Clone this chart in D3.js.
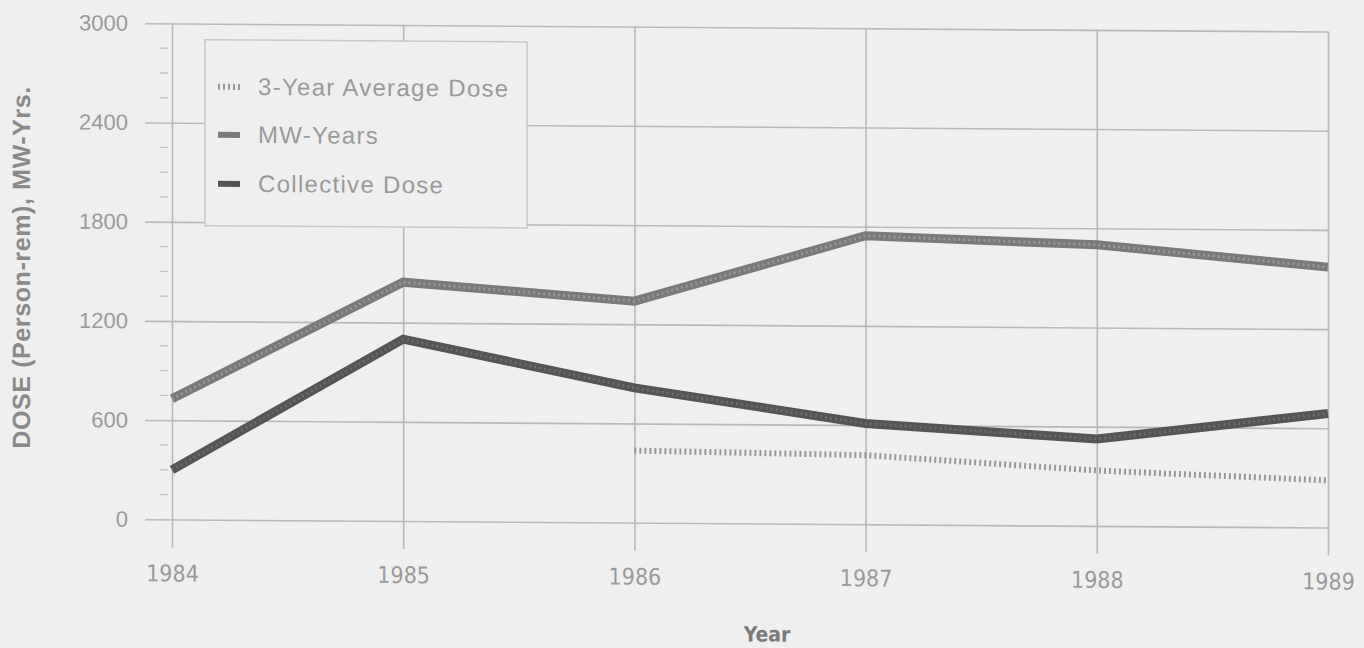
<!DOCTYPE html>
<html>
<head>
<meta charset="utf-8">
<script src="https://cdn.jsdelivr.net/npm/d3@7/dist/d3.min.js"></script>
<style>
  html, body { margin: 0; padding: 0; background: #efefef; }
  svg { display: block; }
</style>
</head>
<body>
<svg id="chart" width="1364" height="648"></svg>
<script>
// Annual values, 1984–1989
const years = [1984, 1985, 1986, 1987, 1988, 1989];
const collectiveDose = [300, 1100, 815, 610, 525, 690];
const mwYears = [730, 1445, 1340, 1745, 1700, 1575];
const threeYearAvg = [null, null, 436, 418, 335, 285];
const yTicks = [0, 600, 1200, 1800, 2400, 3000];
const yMinorTicks = d3.range(150, 3000, 150).filter(v => v % 600 !== 0);

const legendItems = [
  { label: "3-Year Average Dose", key: "avg" },
  { label: "MW-Years", key: "mw" },
  { label: "Collective Dose", key: "col" }
];

const W = 1364, H = 648;
const plotLeft = 172, plotRight = 1328, plotTop = 27, plotBottom = 523;

const svg = d3.select("#chart");
const g = svg.append("g")
  .attr("transform", `translate(${W / 2},${H / 2}) skewY(0.4) translate(${-W / 2},${-H / 2})`);

const x = d3.scaleLinear().domain([1984, 1989]).range([plotLeft, plotRight]);
const y = d3.scaleLinear().domain([0, 3000]).range([plotBottom, plotTop]);

const gridColor = "#b8b8b8";
const textColor = "#9a9a9a";

// Horizontal gridlines (extend left past the axis as ticks)
const yAxis = d3.axisLeft(y).tickValues(yTicks).tickSize(0).tickPadding(0)
  .tickFormat(d => d);
const yAxisG = g.append("g").attr("transform", `translate(${plotLeft},0)`).call(yAxis);
yAxisG.select(".domain").remove();
yAxisG.selectAll(".tick line")
  .attr("x1", -27).attr("x2", plotRight - plotLeft)
  .attr("stroke", gridColor).attr("stroke-width", 1.6);
yAxisG.selectAll(".tick text")
  .attr("x", -44)
  .attr("fill", textColor)
  .style("font-family", "'Liberation Sans', Arial, sans-serif")
  .style("font-size", "22px");

// Minor ticks on the y axis
g.append("g").selectAll("line").data(yMinorTicks).join("line")
  .attr("x1", plotLeft - 12).attr("x2", plotLeft - 4)
  .attr("y1", d => y(d)).attr("y2", d => y(d))
  .attr("stroke", "#c4c4c4").attr("stroke-width", 1.4);

// Vertical gridlines with ticks below the baseline
const xAxis = d3.axisBottom(x).tickValues(years).tickFormat(d3.format("d"))
  .tickSize(0);
const xAxisG = g.append("g").attr("transform", `translate(0,${plotBottom})`).call(xAxis);
xAxisG.select(".domain").remove();
xAxisG.selectAll(".tick line")
  .attr("y1", plotTop - plotBottom).attr("y2", 28)
  .attr("stroke", gridColor).attr("stroke-width", 1.6);
xAxisG.selectAll(".tick text")
  .attr("y", 62)
  .attr("dy", 0)
  .attr("fill", textColor)
  .style("font-family", "'Liberation Sans Narrow', 'DejaVu Sans Condensed', Arial, sans-serif")
  .style("font-size", "23px");

// Legend box (covers the gridlines behind it)
const lg = g.append("g");
lg.append("rect")
  .attr("x", 205).attr("y", 43).attr("width", 322).attr("height", 186)
  .attr("fill", "#efefef").attr("stroke", "#c8c8c8").attr("stroke-width", 1.5);

// Series lines
const line = d3.line()
  .defined(d => d.v !== null)
  .x(d => x(d.year)).y(d => y(d.v));
const toPts = arr => years.map((yr, i) => ({ year: yr, v: arr[i] }));

const styles = {
  mw: { color: "#7a7a7a", width: 9, texture: "#969696" },
  col: { color: "#555555", width: 9, texture: "#6a6a6a" },
  avg: { color: "#999999", width: 6 }
};

const seriesG = g.append("g");
// 3-year average: fine zig-zag dotted trace
seriesG.append("path").datum(toPts(threeYearAvg))
  .attr("d", line).attr("fill", "none")
  .attr("stroke", styles.avg.color).attr("stroke-width", styles.avg.width)
  .attr("stroke-dasharray", "2,3");

[["mw", mwYears], ["col", collectiveDose]].forEach(([k, arr]) => {
  const s = styles[k];
  seriesG.append("path").datum(toPts(arr))
    .attr("d", line).attr("fill", "none")
    .attr("stroke", s.color).attr("stroke-width", s.width)
    .attr("stroke-linejoin", "miter");
  seriesG.append("path").datum(toPts(arr))
    .attr("d", line).attr("fill", "none")
    .attr("stroke", s.texture).attr("stroke-width", 3)
    .attr("stroke-dasharray", "2,3");
});

// Legend entries
const entryY = [90, 138, 187];
legendItems.forEach((it, i) => {
  const s = styles[it.key];
  const yy = entryY[i];
  if (it.key === "avg") {
    lg.append("line").attr("x1", 218).attr("x2", 240).attr("y1", yy).attr("y2", yy)
      .attr("stroke", s.color).attr("stroke-width", 6).attr("stroke-dasharray", "2,3");
  } else {
    lg.append("line").attr("x1", 218).attr("x2", 240).attr("y1", yy).attr("y2", yy)
      .attr("stroke", s.color).attr("stroke-width", 6);
  }
  lg.append("text")
    .attr("x", 258).attr("y", yy + 8)
    .attr("fill", textColor)
    .style("font-family", "'Liberation Sans', Arial, sans-serif")
    .style("font-size", "24px")
    .style("letter-spacing", "1.3px")
    .text(it.label);
});

// Axis titles
g.append("text")
  .attr("transform", `translate(30,272) rotate(-90)`)
  .attr("text-anchor", "middle")
  .attr("fill", "#8a8a8a")
  .style("font-family", "'Liberation Sans', Arial, sans-serif")
  .style("font-size", "25px")
  .style("font-weight", "bold")
  .style("letter-spacing", "0.6px")
  .text("DOSE (Person-rem), MW-Yrs.");

g.append("text")
  .attr("x", 767).attr("y", 641)
  .attr("text-anchor", "middle")
  .attr("fill", "#7a7a7a")
  .style("font-family", "'Liberation Sans Narrow', 'DejaVu Sans Condensed', Arial, sans-serif")
  .style("font-size", "21px")
  .style("font-weight", "bold")
  .text("Year");
</script>
</body>
</html>
